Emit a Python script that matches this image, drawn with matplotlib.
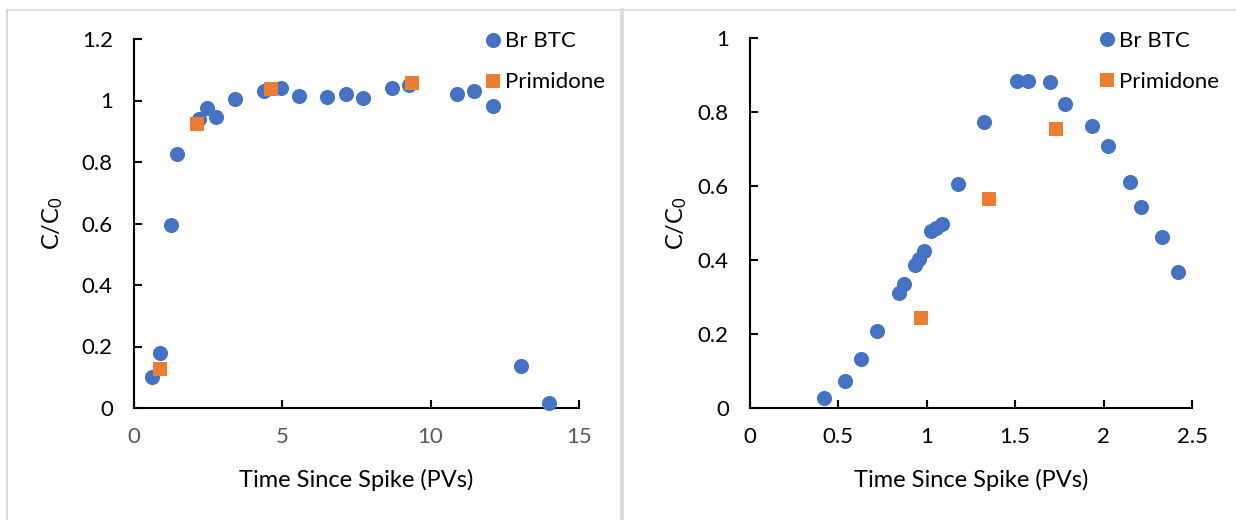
import matplotlib
matplotlib.use("Agg")
import matplotlib.pyplot as plt
from matplotlib.lines import Line2D
from matplotlib.ticker import FuncFormatter

plt.rcParams["font.family"] = ["Lato", "DejaVu Sans"]
plt.rcParams["mathtext.fontset"] = "custom"
plt.rcParams["mathtext.rm"] = "Lato"
plt.rcParams["mathtext.it"] = "Lato:italic"

BLUE = "#4472C4"
ORANGE = "#ED7D31"

# ---- Long-term breakthrough (left) ----
br_long_pv = [0.61, 0.88, 1.25, 1.45, 2.19, 2.47, 2.79, 3.43, 4.38, 4.95, 5.56, 6.50,
              7.14, 7.74, 8.69, 9.29, 10.88, 11.47, 12.10, 13.06, 13.99]
br_long_c = [0.100, 0.180, 0.594, 0.825, 0.940, 0.977, 0.945, 1.005, 1.032, 1.040, 1.015,
             1.010, 1.020, 1.007, 1.042, 1.050, 1.020, 1.032, 0.982, 0.136, 0.016]
prim_long_pv = [0.88, 2.12, 4.64, 9.39]
prim_long_c = [0.127, 0.922, 1.039, 1.058]

# ---- Short-term breakthrough (right) ----
br_short_pv = [0.42, 0.54, 0.63, 0.72, 0.842, 0.875, 0.936, 0.957, 0.985, 1.027, 1.053,
               1.087, 1.177, 1.327, 1.512, 1.572, 1.695, 1.784, 1.936, 2.025, 2.148,
               2.211, 2.331, 2.42]
br_short_c = [0.026, 0.073, 0.132, 0.209, 0.310, 0.335, 0.387, 0.403, 0.425, 0.480, 0.487,
              0.498, 0.605, 0.773, 0.885, 0.885, 0.883, 0.822, 0.764, 0.709, 0.610,
              0.545, 0.462, 0.367]
prim_short_pv = [0.968, 1.351, 1.731]
prim_short_c = [0.243, 0.565, 0.754]

x_label = "Time Since Spike (PVs)"
y_label = r"C/C$_\mathregular{0}$"
series_names = ["Br BTC", "Primidone"]

W, H = 1236, 520
fig = plt.figure(figsize=(W / 100, H / 100), dpi=100)

# chart frames
frame_col = "#D9D9D9"
fig.add_artist(Line2D([7 / W, 1], [1 - 9.5 / H] * 2, color=frame_col, lw=1.2,
                      transform=fig.transFigure))
fig.add_artist(Line2D([7 / W] * 2, [0, 1 - 9.5 / H], color=frame_col, lw=1.5,
                      transform=fig.transFigure))
fig.add_artist(Line2D([621.5 / W] * 2, [0, 1 - 10 / H], color=frame_col, lw=2.6,
                      transform=fig.transFigure))

ax1 = fig.add_axes([133.6 / W, 112 / H, 445.4 / W, 369 / H])
ax2 = fig.add_axes([749.6 / W, 112 / H, 442.4 / W, 369.7 / H])

fmt = FuncFormatter(lambda v, p: f"{v:g}")


def style(ax, xlim, xticks, ylim, yticks, xtick_color, ylabelpad):
    ax.set_xlim(*xlim)
    ax.set_ylim(*ylim)
    ax.set_xticks(xticks)
    ax.set_yticks(yticks)
    ax.xaxis.set_major_formatter(fmt)
    ax.yaxis.set_major_formatter(fmt)
    for s in ("top", "right"):
        ax.spines[s].set_visible(False)
    for s in ("left", "bottom"):
        ax.spines[s].set_linewidth(1.5)
        ax.spines[s].set_color("black")
    ax.tick_params(axis="both", direction="in", length=5.5, width=1.5, labelsize=16)
    ax.tick_params(axis="x", labelcolor=xtick_color, pad=13.5)
    ax.tick_params(axis="y", pad=15)
    ax.set_xlabel(x_label, fontsize=17, labelpad=16)
    ax.set_ylabel(y_label, fontsize=17, labelpad=ylabelpad)
    for sp in ax.spines.values():
        sp.set_clip_on(False)


def draw(ax, bx, by, px, py):
    ax.scatter(bx, by, s=118, marker="o", color=BLUE, linewidths=0, label=series_names[0],
               zorder=3, clip_on=False)
    ax.scatter(px, py, s=100, marker="s", color=ORANGE, linewidths=0, label=series_names[1],
               zorder=4, clip_on=False)
    ax.legend(loc="upper left", bbox_to_anchor=(0.76, 1.045), frameon=False, fontsize=16,
              handletextpad=0.0, labelspacing=0.95, borderaxespad=0, handlelength=1.1,
              scatteryoffsets=[0.5])


draw(ax1, br_long_pv, br_long_c, prim_long_pv, prim_long_c)
style(ax1, (0, 15), [0, 5, 10, 15], (0, 1.2), [0, 0.2, 0.4, 0.6, 0.8, 1.0, 1.2], "#595959",
      12)

draw(ax2, br_short_pv, br_short_c, prim_short_pv, prim_short_c)
style(ax2, (0, 2.5), [0, 0.5, 1, 1.5, 2, 2.5], (0, 1), [0, 0.2, 0.4, 0.6, 0.8, 1.0], "black",
      6)

fig.savefig("out.png", dpi=100)
